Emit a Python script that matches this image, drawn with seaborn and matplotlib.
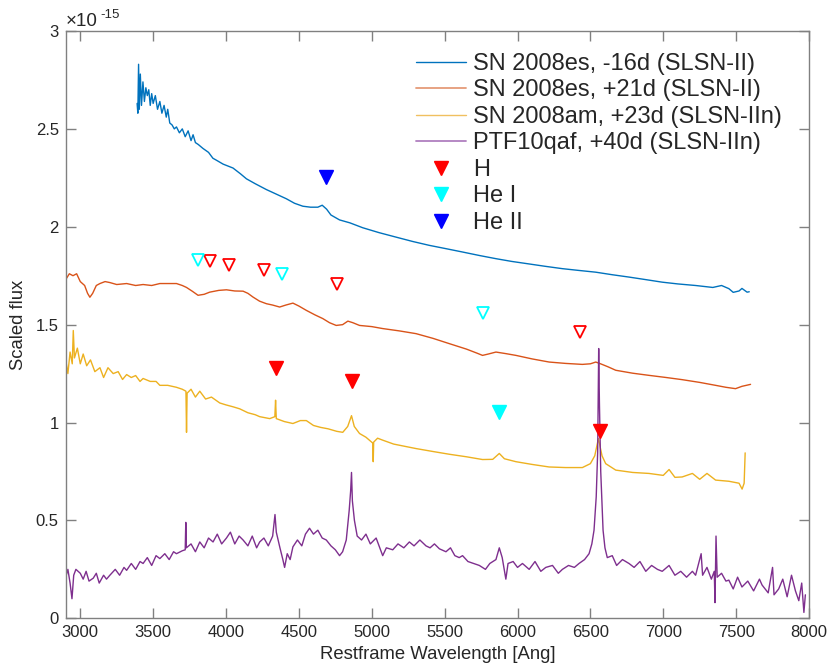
import numpy as np
import pandas as pd
import matplotlib
matplotlib.use("Agg")
import matplotlib.pyplot as plt
from matplotlib.lines import Line2D
import seaborn as sns

# ---------------- data (flux in units of 1e-15) ----------------
es16_wl = [3390, 3395, 3400, 3405, 3412, 3420, 3430, 3440, 3450, 3460, 3470, 3480, 3490, 3500,
           3515, 3530, 3546, 3560, 3575, 3590, 3600, 3614, 3630, 3645, 3660, 3680, 3700, 3720,
           3740, 3760, 3774, 3790, 3810, 3842, 3880, 3910, 3934, 3980, 4048, 4100, 4140, 4200,
           4277, 4350, 4414, 4470, 4527, 4580, 4630, 4660, 4690, 4720, 4779, 4850, 4938, 5050,
           5167, 5280, 5395, 5510, 5623, 5740, 5852, 5960, 6080, 6190, 6308, 6420, 6537, 6650,
           6765, 6880, 6993, 7100, 7222, 7340, 7400, 7450, 7480, 7520, 7540, 7575, 7590]
es16_fx = [2.63, 2.58, 2.83, 2.60, 2.78, 2.62, 2.74, 2.64, 2.71, 2.67, 2.70, 2.62, 2.68, 2.63,
           2.67, 2.60, 2.64, 2.58, 2.62, 2.56, 2.60, 2.53, 2.52, 2.50, 2.51, 2.48, 2.50, 2.46,
           2.49, 2.44, 2.47, 2.43, 2.42, 2.40, 2.38, 2.35, 2.34, 2.32, 2.30, 2.27, 2.245, 2.22,
           2.19, 2.165, 2.143, 2.12, 2.105, 2.10, 2.10, 2.11, 2.09, 2.06, 2.035, 2.02, 1.995, 1.97,
           1.947, 1.925, 1.905, 1.888, 1.871, 1.853, 1.837, 1.823, 1.81, 1.798, 1.786, 1.777, 1.768, 1.755,
           1.743, 1.73, 1.717, 1.708, 1.70, 1.69, 1.70, 1.684, 1.665, 1.672, 1.685, 1.666, 1.668]

es21_wl = [2900, 2925, 2950, 2975, 3000, 3030, 3050, 3066, 3085, 3110, 3135, 3170, 3203, 3250,
           3318, 3380, 3431, 3490, 3546, 3600, 3660, 3700, 3729, 3770, 3808, 3850, 3888, 3950,
           4003, 4060, 4117, 4150, 4185, 4230, 4277, 4320, 4368, 4410, 4459, 4500, 4551, 4610,
           4664, 4710, 4756, 4800, 4836, 4870, 4916, 5000, 5075, 5190, 5304, 5420, 5532, 5650,
           5720, 5760, 5800, 5852, 5920, 5989, 6100, 6217, 6330, 6445, 6500, 6537, 6570, 6620,
           6674, 6790, 6902, 7020, 7130, 7250, 7359, 7430, 7496, 7540, 7570, 7599]
es21_fx = [1.73, 1.76, 1.75, 1.76, 1.72, 1.70, 1.66, 1.64, 1.66, 1.70, 1.71, 1.72, 1.715, 1.705,
           1.71, 1.70, 1.705, 1.70, 1.71, 1.71, 1.71, 1.70, 1.69, 1.67, 1.65, 1.655, 1.666, 1.675,
           1.678, 1.672, 1.671, 1.66, 1.641, 1.62, 1.607, 1.60, 1.59, 1.60, 1.61, 1.595, 1.573, 1.55,
           1.531, 1.51, 1.496, 1.50, 1.518, 1.51, 1.496, 1.49, 1.48, 1.468, 1.454, 1.43, 1.403, 1.375,
           1.355, 1.343, 1.35, 1.36, 1.352, 1.343, 1.325, 1.309, 1.302, 1.297, 1.30, 1.309, 1.30, 1.285,
           1.267, 1.252, 1.241, 1.23, 1.219, 1.205, 1.19, 1.18, 1.173, 1.185, 1.19, 1.195]

am_wl = [2900, 2915, 2930, 2945, 2952, 2960, 2980, 3000, 3020, 3044, 3070, 3100, 3135, 3160,
         3190, 3226, 3260, 3290, 3318, 3350, 3380, 3410, 3431, 3480, 3520, 3546, 3600, 3660,
         3700, 3725, 3729, 3733, 3760, 3790, 3820, 3860, 3900, 3957, 4000, 4050, 4094, 4150,
         4200, 4231, 4300, 4335, 4340, 4345, 4400, 4459, 4510, 4551, 4600, 4650, 4700, 4760,
         4801, 4835, 4861, 4880, 4916, 4960, 5007, 5010, 5013, 5040, 5075, 5150, 5230, 5304,
         5420, 5532, 5650, 5760, 5830, 5875, 5910, 5989, 6100, 6217, 6330, 6445, 6500, 6530,
         6555, 6580, 6605, 6674, 6790, 6902, 7000, 7040, 7080, 7130, 7200, 7250, 7300, 7359,
         7450, 7520, 7541, 7555, 7562]
am_fx = [1.32, 1.25, 1.36, 1.30, 1.47, 1.33, 1.38, 1.30, 1.35, 1.29, 1.32, 1.26, 1.28, 1.23,
         1.28, 1.25, 1.26, 1.22, 1.245, 1.23, 1.24, 1.21, 1.225, 1.21, 1.21, 1.19, 1.19, 1.18,
         1.17, 1.16, 0.95, 1.15, 1.17, 1.13, 1.16, 1.12, 1.13, 1.10, 1.09, 1.08, 1.07, 1.05,
         1.04, 1.03, 1.02, 1.03, 1.114, 1.02, 1.005, 0.995, 1.01, 1.01, 0.985, 0.975, 0.968, 0.955,
         0.95, 0.98, 1.035, 0.98, 0.944, 0.925, 0.895, 0.80, 0.90, 0.92, 0.91, 0.89, 0.878, 0.867,
         0.852, 0.838, 0.825, 0.811, 0.812, 0.842, 0.815, 0.80, 0.786, 0.773, 0.77, 0.77, 0.79, 0.83,
         0.918, 0.83, 0.79, 0.757, 0.745, 0.74, 0.73, 0.76, 0.72, 0.722, 0.74, 0.71, 0.74, 0.706,
         0.70, 0.69, 0.66, 0.69, 0.845]

qaf_wl = [2900, 2915, 2930, 2943, 2955, 2970, 3000, 3020, 3040, 3060, 3089, 3110, 3130, 3160,
          3180, 3203, 3240, 3270, 3300, 3318, 3350, 3380, 3410, 3431, 3460, 3490, 3520, 3546,
          3580, 3610, 3640, 3660, 3700, 3720, 3724, 3728, 3760, 3790, 3820, 3850, 3880, 3911,
          3940, 3970, 4003, 4030, 4060, 4090, 4117, 4150, 4180, 4210, 4231, 4260, 4290, 4320,
          4336, 4345, 4370, 4390, 4402, 4420, 4440, 4459, 4490, 4520, 4545, 4573, 4600, 4630,
          4660, 4688, 4720, 4750, 4779, 4800, 4825, 4845, 4855, 4861, 4867, 4881, 4900, 4930,
          4960, 4990, 5030, 5060, 5075, 5100, 5144, 5180, 5220, 5258, 5290, 5330, 5372, 5400,
          5430, 5464, 5509, 5540, 5570, 5600, 5623, 5660, 5700, 5738, 5780, 5810, 5852, 5875,
          5895, 5920, 5935, 5970, 6000, 6034, 6080, 6120, 6160, 6194, 6240, 6280, 6308, 6350,
          6390, 6422, 6460, 6491, 6510, 6525, 6540, 6550, 6557, 6562, 6571, 6587, 6600, 6616,
          6650, 6680, 6720, 6765, 6800, 6840, 6880, 6920, 6960, 6993, 7040, 7080, 7120, 7160,
          7200, 7222, 7260, 7270, 7300, 7330, 7350, 7355, 7362, 7370, 7400, 7430, 7450, 7480,
          7510, 7540, 7580, 7620, 7660, 7678, 7720, 7750, 7760, 7792, 7820, 7850, 7880, 7907,
          7930, 7950, 7965, 7975]
qaf_fx = [0.21, 0.25, 0.18, 0.10, 0.22, 0.25, 0.23, 0.20, 0.24, 0.19, 0.205, 0.23, 0.18, 0.22,
          0.20, 0.22, 0.25, 0.22, 0.26, 0.245, 0.28, 0.25, 0.29, 0.28, 0.31, 0.27, 0.32, 0.305,
          0.33, 0.30, 0.34, 0.33, 0.345, 0.35, 0.49, 0.36, 0.38, 0.34, 0.39, 0.36, 0.41, 0.39,
          0.43, 0.38, 0.41, 0.44, 0.38, 0.42, 0.40, 0.37, 0.42, 0.36, 0.39, 0.41, 0.37, 0.42,
          0.53, 0.44, 0.36, 0.30, 0.26, 0.33, 0.30, 0.365, 0.40, 0.37, 0.43, 0.46, 0.43, 0.45,
          0.41, 0.40, 0.37, 0.35, 0.32, 0.34, 0.40, 0.55, 0.65, 0.745, 0.60, 0.50, 0.42, 0.40,
          0.43, 0.38, 0.41, 0.35, 0.32, 0.36, 0.35, 0.38, 0.36, 0.39, 0.37, 0.40, 0.37, 0.36,
          0.38, 0.355, 0.34, 0.36, 0.32, 0.31, 0.32, 0.29, 0.28, 0.27, 0.25, 0.28, 0.30, 0.36,
          0.31, 0.20, 0.28, 0.29, 0.26, 0.28, 0.25, 0.29, 0.24, 0.26, 0.27, 0.23, 0.25, 0.27,
          0.26, 0.28, 0.30, 0.33, 0.38, 0.45, 0.62, 0.85, 1.378, 1.10, 0.75, 0.45, 0.36, 0.31,
          0.32, 0.27, 0.30, 0.28, 0.26, 0.29, 0.24, 0.27, 0.25, 0.24, 0.27, 0.22, 0.24, 0.21,
          0.24, 0.22, 0.33, 0.22, 0.26, 0.20, 0.24, 0.08, 0.42, 0.21, 0.23, 0.19, 0.195, 0.15,
          0.21, 0.16, 0.19, 0.14, 0.20, 0.17, 0.13, 0.26, 0.12, 0.15, 0.20, 0.11, 0.22, 0.14,
          0.09, 0.18, 0.03, 0.12]

series_labels = ["SN 2008es, -16d (SLSN-II)", "SN 2008es, +21d (SLSN-II)",
                 "SN 2008am, +23d (SLSN-IIn)", "PTF10qaf, +40d (SLSN-IIn)"]
series_colors = ["#0072BD", "#D95319", "#EDB120", "#7E2F8E"]

# line identification markers
H_filled_wl = [4340, 4861, 6563]
H_filled_fx = [1.28, 1.21, 0.958]
HeI_filled_wl = [5876]
HeI_filled_fx = [1.054]
HeII_filled_wl = [4686]
HeII_filled_fx = [2.253]
H_open_wl = [3893, 4020, 4258, 4763, 6429]
H_open_fx = [1.823, 1.806, 1.781, 1.709, 1.462]
HeI_open_wl = [3808, 4386, 5760]
HeI_open_fx = [1.832, 1.760, 1.559]

xticks = [3000, 3500, 4000, 4500, 5000, 5500, 6000, 6500, 7000, 7500, 8000]
yticks = [0, 0.5, 1, 1.5, 2, 2.5, 3]

# ---------------- plotting ----------------
sns.set_theme(style="ticks")
plt.rcParams["font.family"] = ["Liberation Sans", "DejaVu Sans"]

frames = []
for lab, wl, fx in zip(series_labels,
                       [es16_wl, es21_wl, am_wl, qaf_wl],
                       [es16_fx, es21_fx, am_fx, qaf_fx]):
    frames.append(pd.DataFrame({"wl": wl, "flux": fx, "spec": lab}))
df = pd.concat(frames, ignore_index=True)

W, H = 830, 667
fig = plt.figure(figsize=(W / 100, H / 100), dpi=100)
ax = fig.add_axes([65.7 / W, 1 - 618.3 / H, (809 - 65.7) / W, (618.3 - 31) / H])

sns.lineplot(data=df, x="wl", y="flux", hue="spec", palette=series_colors,
             hue_order=series_labels, estimator=None, sort=False,
             linewidth=1.0, legend=False, ax=ax)

ms = 9.5
ax.plot(H_filled_wl, H_filled_fx, "v", color="#FF0000", ms=ms, mec="#FF0000", ls="none", zorder=5)
ax.plot(HeI_filled_wl, HeI_filled_fx, "v", color="#00FFFF", ms=ms, mec="#00FFFF", ls="none", zorder=5)
ax.plot(HeII_filled_wl, HeII_filled_fx, "v", color="#0000FF", ms=ms, mec="#0000FF", ls="none", zorder=5)
ax.plot(H_open_wl, H_open_fx, "v", mfc="none", mec="#FF0000", mew=1.3, ms=ms - 0.5, ls="none", zorder=5)
ax.plot(HeI_open_wl, HeI_open_fx, "v", mfc="none", mec="#00FFFF", mew=1.3, ms=ms - 0.5, ls="none", zorder=5)

ax.set_xlim(2900, 8000)
ax.set_ylim(0, 3)
ax.set_xticks(xticks)
ax.set_yticks(yticks)
ax.set_xticklabels([str(t) for t in xticks])
ax.set_yticklabels(["%g" % t for t in yticks])

axcol = "#808080"
for sp in ax.spines.values():
    sp.set_visible(True)
    sp.set_color(axcol)
    sp.set_linewidth(1.0)
ax.tick_params(direction="in", length=7, width=1.0, color=axcol,
               top=True, right=True, labelsize=12, labelcolor="#262626", pad=5)
ax.minorticks_off()

ax.set_xlabel("Restframe Wavelength [Ang]", fontsize=13.3, color="#262626", labelpad=4)
ax.set_ylabel("Scaled flux", fontsize=13.3, color="#262626", labelpad=6)

# exponent label like MATLAB
fig.text(66 / W, 1 - 26 / H, "\u00d710", fontsize=13.5, color="#262626", ha="left", va="baseline")
fig.text(100 / W, 1 - 18 / H, "-15", fontsize=9.5, color="#262626", ha="left", va="baseline")

handles = [
    Line2D([], [], color="#0072BD", lw=1.0),
    Line2D([], [], color="#E59B78", lw=1.3),
    Line2D([], [], color="#F0C060", lw=1.0),
    Line2D([], [], color="#B07FBF", lw=1.3),
    Line2D([], [], marker="v", color="#FF0000", ls="none", ms=ms),
    Line2D([], [], marker="v", color="#00FFFF", ls="none", ms=ms),
    Line2D([], [], marker="v", color="#0000FF", ls="none", ms=ms),
]
labels = series_labels + ["H", "He I", "He II"]
fig.legend(handles, labels, loc="upper left", bbox_to_anchor=(415.7 / W, 1 - 53 / H),
           frameon=False, fontsize=17, handlelength=2.15, handletextpad=0.27,
           labelspacing=0.19, borderpad=0, borderaxespad=0)

fig.savefig("out.png", dpi=100)
